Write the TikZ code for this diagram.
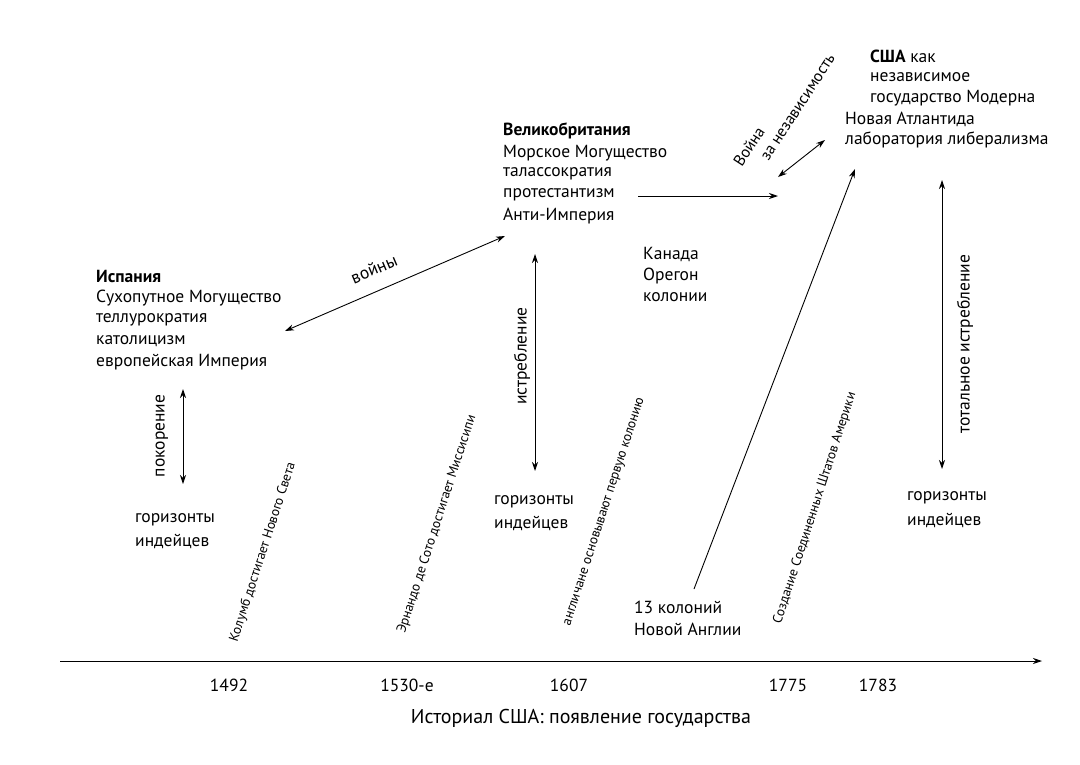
\documentclass[tikz,border=0pt]{standalone}
\usepackage{fontspec}
\setmainfont{PT Sans}
\usetikzlibrary{arrows.meta}
\begin{document}
\begin{tikzpicture}[x=1pt,y=-1pt,
 txt/.style={anchor=west,inner sep=0pt,font=\fontsize{17.5}{21}\selectfont},
 rtxt/.style={inner sep=0pt,font=\fontsize{13.5}{16}\selectfont,rotate=72},
 lbl/.style={inner sep=0pt,font=\fontsize{17.5}{21}\selectfont},
 arr/.style={-{Stealth[length=9pt,width=6pt]},line width=0.9pt},
 darr/.style={{Stealth[length=9pt,width=6pt]}-{Stealth[length=9pt,width=6pt]},line width=0.9pt}]
\useasboundingbox (0,0) rectangle (1080,764);
% axis
\coordinate (a0) at (60,661); \coordinate (a1) at (1042,661);
\draw[arr] (a0) -- (a1);
\node[lbl] (y1) at (229,685) {1492};
\node[lbl] (y2) at (407,685) {1530-е};
\node[lbl] (y3) at (569,685) {1607};
\node[lbl] (y4) at (788,685) {1775};
\node[lbl] (y5) at (878,685) {1783};
\node[lbl,font=\fontsize{20}{24}\selectfont] (title) at (581,718) {Историал США: появление государства};
% rotated events
\node[rtxt] (e1) at (263,552) {Колумб достигает Нового Света};
\node[rtxt] (e2) at (437,524) {Эрнандо де Сото достигает Миссисипи};
\node[rtxt] (e3) at (605,512) {англичане основывают первую колонию};
\node[rtxt] (e4) at (815,508) {Создание Соединенных Штатов Америки};
% Spain
\node[txt] (sp0) at (96,276) {\textbf{Испания}};
\node[txt] (sp1) at (96,298) {Сухопутное Могущество};
\node[txt] (sp2) at (96,320) {теллурократия};
\node[txt] (sp3) at (96,341) {католицизм};
\node[txt] (sp4) at (96,362) {европейская Империя};
% Britain
\node[txt] (gb0) at (503,131) {\textbf{Великобритания}};
\node[txt] (gb1) at (503,153) {Морское Могущество};
\node[txt] (gb2) at (503,174) {талассократия};
\node[txt] (gb3) at (503,195) {протестантизм};
\node[txt] (gb4) at (503,216) {Анти-Империя};
% USA
\node[txt] (us0) at (870,56) {\textbf{США} как};
\node[txt] (us1) at (870,77) {независимое};
\node[txt] (us2) at (870,98) {государство Модерна};
\node[txt] (us3) at (845,119) {Новая Атлантида};
\node[txt] (us4) at (845,140) {лаборатория либерализма};
% Canada
\node[txt] (ca0) at (643,254) {Канада};
\node[txt] (ca1) at (643,276) {Орегон};
\node[txt] (ca2) at (643,297) {колонии};
% horizons
\node[txt] (h1a) at (135,520) {горизонты};
\node[txt] (h1b) at (135,541) {индейцев};
\node[txt] (h2a) at (494,502) {горизонты};
\node[txt] (h2b) at (494,523) {индейцев};
\node[txt] (h3a) at (907,498) {горизонты};
\node[txt] (h3b) at (907,520) {индейцев};
\node[txt] (n13a) at (634,607) {13 колоний};
\node[txt] (n13b) at (634,629) {Новой Англии};
% arrows
\coordinate (w0) at (285,331); \coordinate (w1) at (505,236);
\draw[darr] (w0) -- (w1);
\node[lbl,rotate=23] (wl) at (374,269) {войны};
\coordinate (p0) at (183,389); \coordinate (p1) at (183,484);
\draw[darr] (p0) -- (p1);
\node[lbl,rotate=90] (pl) at (162,436) {покорение};
\coordinate (i0) at (535,254); \coordinate (i1) at (535,471);
\draw[darr] (i0) -- (i1);
\node[lbl,rotate=90] (il) at (522,356) {истребление};
\coordinate (t0) at (942,180); \coordinate (t1) at (942,469);
\draw[darr] (t0) -- (t1);
\node[lbl,rotate=90] (tl) at (965,344) {тотальное истребление};
\coordinate (g0) at (638,196); \coordinate (g1) at (778,196);
\draw[arr] (g0) -- (g1);
\coordinate (v0) at (778,177); \coordinate (v1) at (825,140);
\draw[darr] (v0) -- (v1);
\node[lbl,rotate=57,align=left,font=\fontsize{16}{19}\selectfont] (vl) at (784,110) {Война\\\hspace{1.2em}за независимость};
\coordinate (c0) at (694,589); \coordinate (c1) at (855,169);
\draw[arr] (c0) -- (c1);
\end{tikzpicture}
\end{document}
